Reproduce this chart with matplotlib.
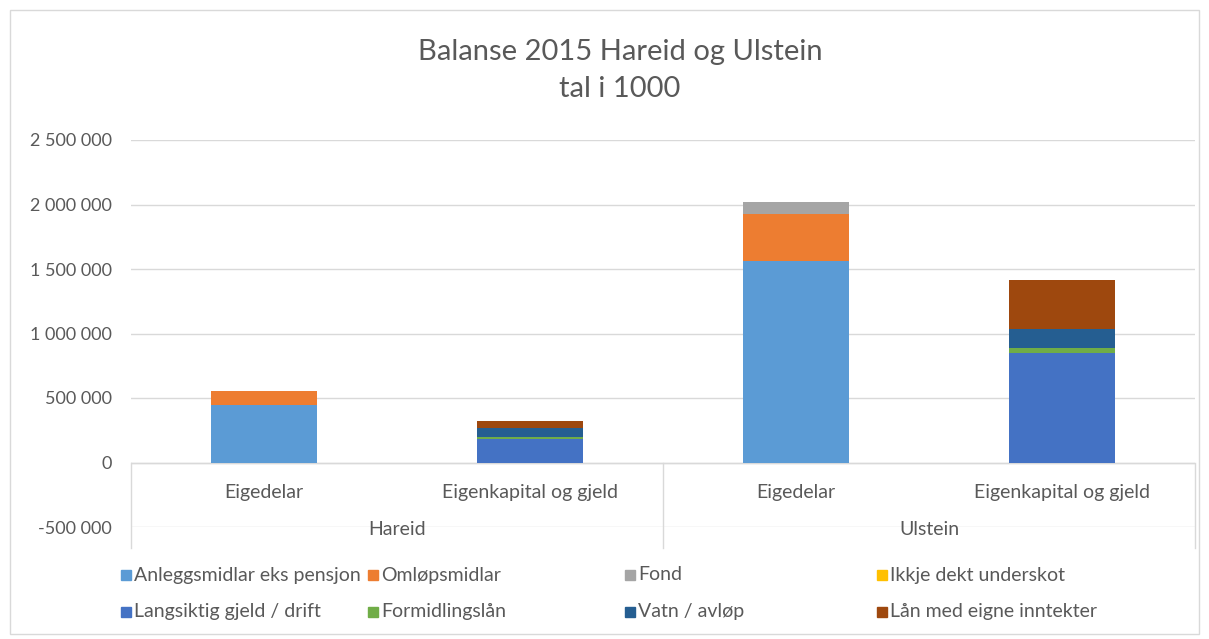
import matplotlib
matplotlib.use("Agg")
import matplotlib.pyplot as plt
from matplotlib.patches import Rectangle
from matplotlib.ticker import FuncFormatter

plt.rcParams['font.family'] = ['Lato', 'DejaVu Sans']

groups = ["Hareid", "Ulstein"]
categories = ["Eigedelar", "Eigenkapital og gjeld", "Eigedelar", "Eigenkapital og gjeld"]
series_names = ["Anleggsmidlar eks pensjon", "Omløpsmidlar", "Fond", "Ikkje dekt underskot",
                "Langsiktig gjeld / drift", "Formidlingslån", "Vatn / avløp", "Lån med eigne inntekter"]
colors = ["#5B9BD5", "#ED7D31", "#A5A5A5", "#FFC000", "#4472C4", "#70AD47", "#255E91", "#9E480E"]

anlegg      = [445000, 0, 1560000, 0]
omlop       = [108000, 0, 367000, 0]
fond        = [0, 0, 93000, 0]
ikkje_dekt  = [0, 0, 0, 0]
langsiktig  = [0, 182000, 0, 848000]
formidling  = [0, 12000, 0, 40000]
vatn        = [0, 75000, 0, 147000]
laan_eigne  = [0, 52000, 0, 378000]
values = [anlegg, omlop, fond, ikkje_dekt, langsiktig, formidling, vatn, laan_eigne]

W, H = 1209, 639
fig = plt.figure(figsize=(W / 100, H / 100), dpi=100)
fig.patch.set_facecolor("white")

# chart border
fig.add_artist(Rectangle((10 / W, 1 - 634 / H), (1199 - 10) / W, (634 - 10) / H,
                         transform=fig.transFigure, fill=False, ec="#D9D9D9", lw=1))

ymin, ymax = -500000, 2500000
ax = fig.add_axes([131 / W, 1 - 527 / H, (1195 - 131) / W, (527 - 140) / H])
ax.set_xlim(-0.5, len(categories) - 0.5)
ax.set_ylim(ymin, ymax)
for s in ax.spines.values():
    s.set_visible(False)
ax.set_yticks(range(ymin, ymax + 1, 500000))
ax.yaxis.set_major_formatter(FuncFormatter(lambda v, p: f"{int(v):,}".replace(",", " ")))
ax.tick_params(axis="y", length=0, labelsize=13, labelcolor="#595959", pad=14)
ax.set_xticks([])
ax.grid(axis="y", color="#D9D9D9", lw=1)
ax.set_axisbelow(True)

x = list(range(len(categories)))
bottoms = [0] * len(categories)
for name, vals, c in zip(series_names, values, colors):
    ax.bar(x, vals, width=0.4, bottom=bottoms, color=c, label=name, zorder=3)
    bottoms = [b + v for b, v in zip(bottoms, vals)]

# category axis
ax.axhline(0, color="#D9D9D9", lw=1, zorder=2)
for xs in [-0.5, 1.5, 3.5]:
    ax.plot([xs, xs], [0, -660000], color="#D9D9D9", lw=1, clip_on=False, zorder=2)
for xi, lab in zip(x, categories):
    ax.text(xi, -230000, lab, ha="center", va="center", fontsize=14, color="#595959")
for gi, g in enumerate(groups):
    ax.text(gi * 2 + 0.5, -520000, g, ha="center", va="center", fontsize=14, color="#595959")

# title
fig.text(620 / W, 1 - 52 / H, "Balanse 2015 Hareid og Ulstein", ha="center", va="center",
         fontsize=21, color="#595959")
fig.text(620 / W, 1 - 89 / H, "tal i 1000", ha="center", va="center", fontsize=21, color="#595959")

# legend
col_x = [121, 368, 625, 877]
row_y = [575, 612]
for i, (name, c) in enumerate(zip(series_names, colors)):
    r, col = divmod(i, 4)
    mx, my = col_x[col], row_y[r]
    fig.add_artist(Rectangle((mx / W, 1 - (my + 5) / H), 10 / W, 10 / H,
                             transform=fig.transFigure, color=c))
    fig.text((mx + 13) / W, 1 - my / H, name, ha="left", va="center", fontsize=14, color="#595959")

fig.savefig("out.png", dpi=100)
